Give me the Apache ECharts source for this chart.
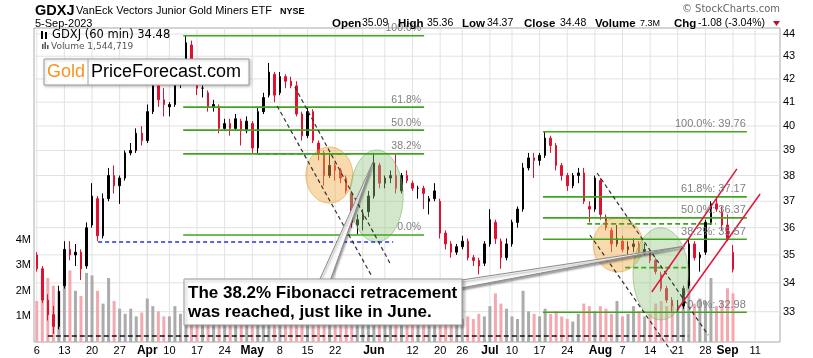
<!DOCTYPE html>
<html><head><meta charset="utf-8">
<script src="https://cdn.jsdelivr.net/npm/echarts@6/dist/echarts.min.js"></script>
<style>html,body{margin:0;padding:0;background:#fff}#main{width:813px;height:358px}</style>
</head><body><div id="main"></div>
<script>
// ---------- DATA ----------
const dates = [
'03-06','03-07','03-08','03-09','03-10','03-13','03-14','03-15','03-16','03-17','03-20','03-21','03-22','03-23','03-24','03-27','03-28','03-29','03-30','03-31',
'04-03','04-04','04-05','04-06','04-10','04-11','04-12','04-13','04-14','04-17','04-18','04-19','04-20','04-21','04-24','04-25','04-26','04-27','04-28',
'05-01','05-02','05-03','05-04','05-05','05-08','05-09','05-10','05-11','05-12','05-15','05-16','05-17','05-18','05-19','05-22','05-23','05-24','05-25','05-26','05-30','05-31',
'06-01','06-02','06-05','06-06','06-07','06-08','06-09','06-12','06-13','06-14','06-15','06-16','06-20','06-21','06-22','06-23','06-26','06-27','06-28','06-29','06-30',
'07-03','07-05','07-06','07-07','07-10','07-11','07-12','07-13','07-14','07-17','07-18','07-19','07-20','07-21','07-24','07-25','07-26','07-27','07-28','07-31',
'08-01','08-02','08-03','08-04','08-07','08-08','08-09','08-10','08-11','08-14','08-15','08-16','08-17','08-18','08-21','08-22','08-23','08-24','08-25','08-28','08-29','08-30','08-31',
'09-01','09-05','09-06','09-07','09-08','09-11','09-12','09-13','09-14','09-15'];

const open  = [35.0,34.5,33.4,32.9,32.5,33.9,35.2,35.0,35.1,34.6, 36.1,37.1,35.7,37.1,38.0,37.6,37.9,38.9,39.0,39.7,
 39.4,40.6,41.7,41.1,40.8,40.9,42.0,42.6,43.5,42.3, 41.6,41.4,40.8,40.8,39.9,40.1,39.9,40.2,39.8,
 40.1,39.1,40.6,41.3,42.2,41.4,42.1,41.9,41.7,40.5, 39.6,40.6,39.3,38.9,38.0,38.4,38.2,37.9,37.3,36.1,36.3,36.6,
 37.2,38.4,37.7,37.9,38.0,37.4,38.0,37.7,37.5,37.5, 37.0,37.1,37.0,35.8,35.4,35.1,35.3,35.5,34.9,34.8,34.7,
 35.4,36.2,35.5,34.9,35.4,36.2,36.7,38.3,38.7,38.6, 38.8,39.5,39.2,38.4,38.0,37.6,38.0,38.1,36.8,36.7,
 37.8,36.4,35.9,35.4,35.5,35.2,35.3,35.4,35.1,35.1, 34.8,34.3,33.8,33.4,33.2,33.2,33.9,35.4,34.9,35.1,36.2,36.9,36.6,
 36.1,35.09];
const high  = [35.1,34.6,33.6,33.2,33.9,35.5,35.5,35.4,35.2,36.2, 37.7,37.2,37.3,38.3,38.4,38.0,39.0,39.3,39.9,40.0,
 40.9,41.9,41.9,41.6,41.0,42.2,42.6,43.92,43.7,42.4, 41.8,41.5,41.1,40.9,40.3,40.3,40.5,40.3,40.4,
 40.2,40.8,41.4,42.7,42.3,42.3,42.2,42.1,41.9,40.6, 40.8,40.7,39.4,39.0,38.9,38.5,38.3,38.0,37.4,36.5,36.7,37.4,
 38.9,38.5,38.0,38.2,38.9,38.1,38.2,37.8,37.6,37.6, 37.2,37.7,37.1,35.9,35.5,35.4,35.7,35.6,35.0,34.9,35.5,
 36.7,36.3,35.6,35.6,36.3,36.8,38.5,38.9,38.9,38.9, 39.76,39.6,39.3,38.5,38.1,38.1,38.3,38.3,37.0,38.0,
 37.9,36.5,36.0,36.1,35.7,35.5,35.6,35.5,35.4,35.2, 34.9,34.4,33.9,33.5,33.4,33.9,35.6,35.5,35.1,36.3,37.0,37.15,36.8,
 36.5,35.36];
const low   = [34.4,33.3,32.7,32.25,32.4,33.8,34.8,34.6,34.1,34.5, 36.0,35.5,35.6,37.0,37.3,36.9,37.8,38.8,38.9,39.2,
 39.3,40.5,40.8,40.4,40.4,40.8,41.6,42.5,42.3,41.3, 41.2,40.6,40.6,39.7,39.8,39.6,39.8,39.2,39.7,
 38.9,38.9,40.5,41.2,41.0,41.3,41.6,41.6,40.4,39.4, 39.5,39.3,38.6,37.6,37.9,37.8,37.7,37.3,36.0,35.75,35.9,36.4,
 37.1,37.5,37.5,37.7,37.3,37.3,37.7,37.4,37.1,36.7, 36.5,37.0,35.6,35.2,34.9,35.0,35.2,34.8,34.6,34.3,34.6,
 35.3,35.4,34.5,34.8,35.3,36.0,36.6,38.2,37.9,38.4, 38.7,38.9,38.2,37.8,37.4,37.5,37.7,36.9,36.2,36.6,
 36.3,35.9,35.1,35.3,35.1,35.0,35.1,35.0,35.0,34.7, 34.3,33.7,33.3,33.0,33.0,33.1,33.8,34.8,34.4,35.0,36.1,36.6,35.9,
 35.5,34.37];
const close = [34.5,33.4,32.9,32.5,33.7,35.2,35.0,35.1,34.5,36.0, 37.2,35.7,37.1,38.0,37.6,37.9,38.9,39.0,39.7,39.4,
 40.6,41.7,41.1,40.9,40.9,42.0,42.5,43.6,42.5,41.6, 41.6,40.8,40.9,39.9,40.1,39.9,40.3,39.8,40.2,
 39.1,40.6,41.2,42.3,41.3,42.1,41.9,41.7,40.5,39.6, 40.6,39.4,38.9,38.0,38.4,38.2,37.9,37.4,36.2,36.3,36.5,37.2,
 38.5,37.7,37.9,38.0,37.5,38.0,37.8,37.5,37.5,37.3, 37.1,37.4,35.8,35.4,35.1,35.3,35.5,34.9,34.8,34.6,35.4,
 36.3,35.6,34.9,35.4,36.2,36.7,38.3,38.7,38.6,38.8, 39.5,39.2,38.4,38.0,37.6,38.0,38.1,37.0,36.7,37.9,
 36.5,36.0,35.4,35.6,35.2,35.3,35.4,35.1,35.2,34.8, 34.4,33.8,33.4,33.2,33.2,33.8,35.4,34.9,35.0,36.2,36.9,36.7,36.1,
 35.56,34.48];
// volume (millions) of the most visible hourly bars per session
const volume = [1.6,2.6,2.5,2.2,2.0,2.7,2.8,2.0,1.8,2.7, 2.6,2.0,1.5,2.5,1.6,1.3,1.1,1.3,1.0,1.15,
 1.7,1.4,1.2,1.0,1.0,1.4,1.1,1.3,1.5,1.2, 0.9,1.1,1.0,1.3,0.9,1.0,1.1,0.9,1.0,
 1.0,1.3,1.2,1.3,1.5,0.9,0.8,1.0,1.3,1.2, 1.0,1.1,1.2,1.3,1.0,0.9,1.0,1.1,1.4,1.2,1.0,1.3,
 1.2,1.4,1.0,0.9,1.1,0.8,0.9,0.9,0.8,1.1, 1.0,1.2,1.3,1.1,1.0,0.9,0.9,1.0,0.9,1.1,1.0,
 1.4,1.9,1.5,1.3,1.0,0.9,2.0,1.2,1.1,1.0, 1.3,1.1,1.2,1.0,0.9,0.8,1.1,1.5,1.4,1.2,
 1.4,1.3,1.1,1.6,1.0,1.1,1.4,1.2,1.0,1.1, 1.5,1.6,1.4,1.5,1.3,1.6,2.4,1.5,1.7,1.6,2.5,1.4,1.6,
 2.1,1.9];

const priceTicks = [33,34,35,36,37,38,39,40,41,42,43,44];
const volumeTicksM = [1,2,3,4];
const labelDays  = ['03-06','03-13','03-20','03-27','04-03','04-10','04-17','04-24','05-01','05-08','05-15','05-22','06-01','06-12','06-20','06-26','07-03','07-10','07-17','07-24','08-01','08-07','08-14','08-21','08-28','09-01','09-11'];
const labelTexts = ['6','13','20','27','Apr','10','17','24','May','8','15','22','Jun','12','20','26','Jul','10','17','24','Aug','7','14','21','28','Sep','11'];
const gridDays = ['03-06','03-13','03-20','03-27','04-03','04-10','04-17','04-24','05-01','05-08','05-15','05-22','05-30','06-05','06-12','06-20','06-26','07-03','07-10','07-17','07-24','07-31','08-07','08-14','08-21','08-28','09-05','09-11'];

// annotations in data space: day index (fractional) and price
const fibASpan = [26.5, 70.1];
const fibAPrices = [43.92, 40.79, 39.83, 38.86, 35.73];
const fibALabels = ['100.0%','61.8%','50.0%','38.2%','0.0%'];
const fibBSpan = [91.6, 128.5];
const fibBPrices = [39.76, 37.17, 36.37, 35.57, 32.98];
const fibBLabels = ['100.0%: 39.76','61.8%: 37.17','50.0%: 36.37','38.2%: 35.57','0.0%: 32.98'];
const blackDashedLines = [[43.5,40.84,60.7,34.21],[46.7,41.65,63.9,34.71],[101.4,38.10,121.5,32.21],[100.1,35.73,115.3,31.55]];
const redChannelLines = [[111.3,33.68,126.7,38.26],[115.9,33.06,130.9,37.28]];
const blueLevel = [11.1, 64.5, 35.47];
const greenLevels = [[39.85,57.2,38.86],[99.6,122.9,36.14],[106.5,117.7,34.54]];
const bottomLevel = [2.0, 117.9, 32.18];
const orangeEllipses = [[48.7,57.2,39.14,36.93],[100.7,109.7,36.37,34.39]];
const greenEllipses = [[56.7,66.3,39.02,35.47],[107.9,117.9,36.0,32.72]];
const pointerTips = [[60.85,38.53],[117.3,35.32]];

// ---------- CHART ----------
const FONT = "'Liberation Sans', Arial, sans-serif";
const lnMax = Math.log(44) + 6/965.3;
const lnMin = Math.log(44) - 308/965.3;
const labelMap = {}; labelDays.forEach((d,i)=>labelMap[d]=labelTexts[i]);
const isMonth = t => /^[A-Z]/.test(t);

const candleData = open.map((o,i)=>[Math.log(o),Math.log(close[i]),Math.log(low[i]),Math.log(high[i])]);
const volData = volume.map((v,i)=>({value:v*1e6, itemStyle:{color: close[i] >= open[i] ? '#ababab' : '#f4a8b0'}}));

const chart = echarts.init(document.getElementById('main'));
chart.setOption({
  animation:false,
  backgroundColor:'#fff',
  grid:{left:34,right:33,top:28,bottom:16,show:true,borderColor:'#a8a8a8',borderWidth:1,backgroundColor:'transparent'},
  xAxis:{type:'category',data:dates,boundaryGap:true,
    axisLine:{show:false},axisTick:{show:false},splitLine:{show:false},
    axisLabel:{interval:(idx,val)=>labelMap[val]!==undefined,margin:3,
      formatter:val=>{const t=labelMap[val]; if(t===undefined) return ''; return isMonth(t)?'{m|'+t+'}':'{d|'+t+'}';},
      rich:{m:{fontFamily:FONT,fontSize:12,fontWeight:'bold',color:'#000'},d:{fontFamily:FONT,fontSize:11,color:'#000'}}}},
  yAxis:[
    {type:'value',position:'right',min:lnMin,max:lnMax,scale:true,
      axisLine:{show:false},axisTick:{show:false},splitLine:{show:false},
      axisLabel:{customValues:priceTicks.map(p=>Math.log(p)),formatter:v=>String(Math.round(Math.exp(v))),
        margin:3,fontFamily:FONT,fontSize:11,color:'#000'}},
    {type:'value',position:'left',min:0,max:314/25.6*1e6,interval:1e6,
      axisLine:{show:false},axisTick:{show:false},splitLine:{show:false},
      axisLabel:{margin:3,fontFamily:FONT,fontSize:11,color:'#000',
        formatter:v=>volumeTicksM.indexOf(Math.round(v/1e6))>=0 && Math.abs(v-Math.round(v/1e6)*1e6)<1 ? Math.round(v/1e6)+'M' : ''}}
  ],
  series:[
    {type:'bar',name:'Volume',yAxisIndex:1,data:volData,barWidth:3,z:2,silent:true},
    {type:'candlestick',name:'GDXJ',yAxisIndex:0,data:candleData,barWidth:2,z:3,silent:true,
      itemStyle:{color:'#000',color0:'#e0102f',borderColor:'#000',borderColor0:'#e0102f',borderWidth:1}}
  ]
});

// ---------- ANNOTATIONS through the chart's scales ----------
const x0 = chart.convertToPixel({xAxisIndex:0},0);
const bw = chart.convertToPixel({xAxisIndex:0},1) - x0;
const X = i => x0 + i*bw;
const Y = p => chart.convertToPixel({yAxisIndex:0},Math.log(p));
const dayX = d => X(dates.indexOf(d));
const g = [];
const gridTop = 28, gridBot = 342, gridL = 34, gridR = 780;

priceTicks.forEach(p=>g.push({type:'line',z:1,silent:true,shape:{x1:gridL,y1:Y(p),x2:gridR,y2:Y(p)},style:{stroke:'#e2e2e2',lineWidth:1}}));
gridDays.forEach(d=>g.push({type:'line',z:1,silent:true,shape:{x1:dayX(d),y1:gridTop,x2:dayX(d),y2:gridBot},style:{stroke:'#e2e2e2',lineWidth:1}}));

function hline(a,b,p,stroke,w,dash){g.push({type:'line',z:10,silent:true,shape:{x1:X(a),y1:Y(p),x2:X(b),y2:Y(p)},style:{stroke,lineWidth:w,lineDash:dash||null}});}
function seg(l,stroke,w,dash){g.push({type:'line',z:10,silent:true,shape:{x1:X(l[0]),y1:Y(l[1]),x2:X(l[2]),y2:Y(l[3])},style:{stroke,lineWidth:w,lineDash:dash||null}});}
function ell(e,fill,stroke){g.push({type:'ellipse',z:8,silent:true,shape:{cx:(X(e[0])+X(e[1]))/2,cy:(Y(e[2])+Y(e[3]))/2,rx:(X(e[1])-X(e[0]))/2,ry:(Y(e[3])-Y(e[2]))/2},style:{fill,stroke,lineWidth:1}});}

orangeEllipses.forEach(e=>ell(e,'rgba(242,172,70,0.45)','rgba(225,150,50,0.55)'));
greenEllipses.forEach(e=>ell(e,'rgba(150,200,130,0.42)','rgba(120,175,100,0.55)'));

fibAPrices.forEach((p,k)=>{hline(fibASpan[0],fibASpan[1],p,'#3fa51f',1.6);
  g.push({type:'text',z:11,silent:true,style:{text:fibALabels[k],x:X(fibASpan[1])-3,y:Y(p)-2,align:'right',verticalAlign:'bottom',fill:'#808080',fontFamily:FONT,fontSize:10.5}});});
fibBPrices.forEach((p,k)=>{hline(fibBSpan[0],fibBSpan[1],p,'#3fa51f',1.6);
  g.push({type:'text',z:11,silent:true,style:{text:fibBLabels[k],x:X(fibBSpan[1])-1,y:Y(p)-2,align:'right',verticalAlign:'bottom',fill:'#808080',fontFamily:FONT,fontSize:11}});});

hline(blueLevel[0],blueLevel[1],blueLevel[2],'#2233ee',1.3,[4,3]);
greenLevels.forEach(l=>hline(l[0],l[1],l[2],'#3fa51f',1.8,[5,3]));
hline(bottomLevel[0],bottomLevel[1],bottomLevel[2],'#111',1.5,[5,3]);
blackDashedLines.forEach(l=>seg(l,'#333',1.2,[4,3]));
redChannelLines.forEach(l=>seg(l,'#e3123b',1.5));

// callout pointers + box
const t1=[X(pointerTips[0][0]),Y(pointerTips[0][1])], t2=[X(pointerTips[1][0]),Y(pointerTips[1][1])];
const ptrStyle={fill:'#fbfbfb',stroke:'#8a8a8a',lineWidth:1,shadowBlur:2,shadowColor:'rgba(0,0,0,0.35)',shadowOffsetX:1,shadowOffsetY:2};
g.push({type:'polygon',z:20,silent:true,shape:{points:[[319,281],[330,281],t1]},style:ptrStyle});
g.push({type:'polygon',z:20,silent:true,shape:{points:[[455,281],[461,288],t2]},style:ptrStyle});
g.push({type:'rect',z:21,silent:true,shape:{x:184,y:279,width:278,height:46},style:{fill:'#fff',stroke:'#9a9a9a',lineWidth:1,shadowBlur:3,shadowColor:'rgba(0,0,0,0.3)',shadowOffsetX:2,shadowOffsetY:2}});
g.push({type:'text',z:22,silent:true,style:{text:'The 38.2% Fibonacci retracement',x:188,y:293,verticalAlign:'middle',fill:'#000',fontFamily:FONT,fontWeight:'bold',fontSize:17}});
g.push({type:'text',z:22,silent:true,style:{text:'was reached, just like in June.',x:188,y:312,verticalAlign:'middle',fill:'#000',fontFamily:FONT,fontWeight:'bold',fontSize:17}});

// logo box
g.push({type:'rect',z:21,silent:true,shape:{x:44,y:59,width:205,height:26},style:{fill:'#fff',stroke:'#a0a0a0',lineWidth:1,shadowBlur:3,shadowColor:'rgba(0,0,0,0.25)',shadowOffsetX:1,shadowOffsetY:1}});
g.push({type:'line',z:22,silent:true,shape:{x1:88,y1:59,x2:88,y2:85},style:{stroke:'#a0a0a0',lineWidth:1}});
g.push({type:'text',z:22,silent:true,style:{text:'Gold',x:47,y:72.5,verticalAlign:'middle',fill:'#f7941d',fontFamily:FONT,fontSize:18}});
g.push({type:'text',z:22,silent:true,style:{text:'PriceForecast.com',x:91,y:72.5,verticalAlign:'middle',fill:'#000',fontFamily:FONT,fontSize:18}});

// header
function T(t,x,y,size,bold,fill,family,align){g.push({type:'text',z:30,silent:true,style:{text:t,x,y,align:align||'left',verticalAlign:'middle',fill:fill||'#000',fontFamily:family||FONT,fontSize:size,fontWeight:bold?'bold':'normal'}});}
T('GDXJ',35,11,14.5,true);
T('VanEck Vectors Junior Gold Miners ETF',76,11,11);
T('NYSE',280,11.5,9,true);
T('5-Sep-2023',35,23.5,11);
T('© StockCharts.com',780,9.5,10,false,'#666',"'DejaVu Sans', sans-serif",'right');
const hdr=[['Open',332,true],['35.09',362,false],['High',398,true],['35.36',427,false],['Low',462,true],['34.37',487,false],['Close',524,true],['34.48',560,false],['Volume',595,true],['7.3M',640,false],['Chg',674,true],['-1.08 (-3.04%)',698,false]];
hdr.forEach(h=>T(h[0],h[1],23.5,h[2]?11.5:(h[0]==='7.3M'?9:10.5),h[2]));
g.push({type:'polygon',z:30,silent:true,shape:{points:[[773,21],[780,21],[776.5,26]]},style:{fill:'#c0102a'}});

// in-chart legend
g.push({type:'rect',z:30,silent:true,shape:{x:41,y:31,width:2,height:8},style:{fill:'#000'}});
g.push({type:'rect',z:30,silent:true,shape:{x:45,y:32,width:2,height:7},style:{fill:'#000'}});
T('GDXJ (60 min) 34.48',52,35.5,11.5,false,'#000',"'DejaVu Sans', sans-serif");
g.push({type:'rect',z:30,silent:true,shape:{x:42,y:44,width:1.5,height:5},style:{fill:'#555'}});
g.push({type:'rect',z:30,silent:true,shape:{x:44.5,y:42,width:1.5,height:7},style:{fill:'#555'}});
g.push({type:'rect',z:30,silent:true,shape:{x:47,y:45,width:1.5,height:4},style:{fill:'#555'}});
T('Volume 1,544,719',51,46.5,9,false,'#555',"'DejaVu Sans', sans-serif");

chart.setOption({graphic:{elements:g}});
</script></body></html>
